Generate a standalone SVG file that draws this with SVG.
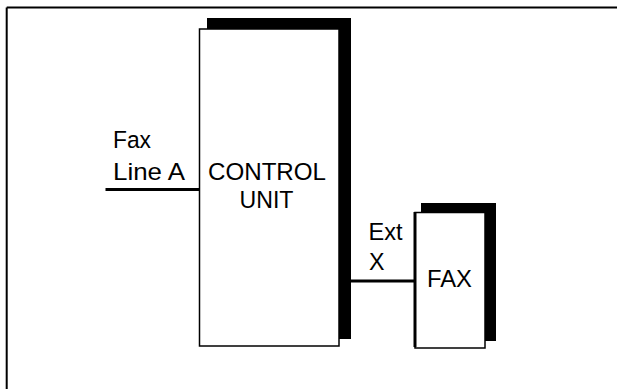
<svg xmlns="http://www.w3.org/2000/svg" width="617" height="389" viewBox="0 0 617 389">
  <style>
    .lbl { font-family: "Liberation Sans", Arial, sans-serif; font-size: 24.5px; fill: #000; }
    .shadow { fill: #000; stroke: none; }
    .box { fill: #fff; stroke: #000; stroke-width: 1.5; }
    .wire { stroke: #000; stroke-width: 3; fill: none; }
    .frame { stroke: #000; stroke-width: 2; fill: none; }
  </style>
  <rect x="0" y="0" width="617" height="389" fill="#fff"/>
  <g id="frame">
    <path class="frame" d="M6.7 7.5 H617 M6.7 7.5 V389"/>
  </g>
  <g id="connectors">
    <line class="wire" x1="105.5" y1="189.5" x2="199" y2="189.5"/>
    <line class="wire" x1="350" y1="281" x2="414" y2="281"/>
  </g>
  <g id="control-unit">
    <rect class="shadow" x="207" y="18" width="144" height="321"/>
    <rect class="box" x="199.5" y="29" width="139.5" height="317"/>
    <text class="lbl" x="208" y="179.5" textLength="118" lengthAdjust="spacingAndGlyphs">CONTROL</text>
    <text class="lbl" x="239.5" y="207.5" textLength="54" lengthAdjust="spacingAndGlyphs">UNIT</text>
  </g>
  <g id="fax">
    <rect class="shadow" x="421" y="203" width="75" height="138"/>
    <rect class="box" x="415" y="212.5" width="70" height="135.5"/>
    <line x1="415" y1="212" x2="415" y2="347" stroke="#000" stroke-width="3"/>
    <text class="lbl" x="427" y="287" textLength="45" lengthAdjust="spacingAndGlyphs">FAX</text>
  </g>
  <g id="label-fax-line-a">
    <text class="lbl" x="113" y="148" textLength="38" lengthAdjust="spacingAndGlyphs">Fax</text>
    <text class="lbl" x="113" y="180" textLength="72" lengthAdjust="spacingAndGlyphs">Line A</text>
  </g>
  <g id="label-ext-x">
    <text class="lbl" x="368.5" y="240" textLength="34" lengthAdjust="spacingAndGlyphs">Ext</text>
    <text class="lbl" x="369" y="270" textLength="15.5" lengthAdjust="spacingAndGlyphs">X</text>
  </g>
</svg>
